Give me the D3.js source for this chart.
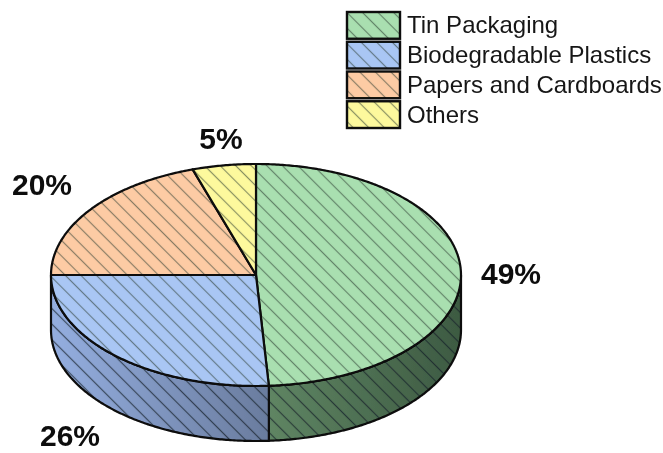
<!DOCTYPE html>
<html><head><meta charset="utf-8">
<script src="https://cdn.jsdelivr.net/npm/d3@7"></script>
<style>html,body{margin:0;padding:0;background:#fff}svg{display:block}</style>
</head><body><svg id="c" width="663" height="453"></svg>
<script>
const categories = ["Tin Packaging","Biodegradable Plastics","Papers and Cardboards","Others"];
const shares = [49,26,20,5];
const topColors = ["#a9dfb0","#a9c6f4","#fdcba4","#fdf99d"];
const sideStops = [["#5f8563","#3d5a42"],["#6a7c9e","#94aee0"]];
const svg=d3.select("#c");
const defs=svg.append("defs");
const blur=defs.append("filter").attr("id","soft").attr("x","-5%").attr("y","-5%").attr("width","110%").attr("height","110%");
blur.append("feGaussianBlur").attr("stdDeviation",0.6);
function hatch(id,color,op,size){
  const p=defs.append("pattern").attr("id",id).attr("patternUnits","userSpaceOnUse")
    .attr("width",size).attr("height",size).attr("patternTransform","rotate(45)");
  p.append("line").attr("x1",0).attr("x2",size).attr("y1",size/2).attr("y2",size/2)
    .attr("stroke",color).attr("stroke-opacity",op).attr("stroke-width",1.2);
}
hatch("h","#2a3a30",0.55,11);
hatch("hs","#15202a",0.7,11);
const cx=256,cy=275,rx=205,ry=111,depth=55;
const xS=d3.scaleLinear().domain([-1,1]).range([cx-rx,cx+rx]);
const yS=d3.scaleLinear().domain([-1,1]).range([cy-ry,cy+ry]);
const arcs=d3.pie().sort(null)(shares);
const ang=(a,b)=>{const n=Math.max(2,Math.ceil(Math.abs(b-a)/0.01));return d3.range(n+1).map(i=>a+(b-a)*i/n);};
const px=a=>xS(Math.sin(a)), py=a=>yS(-Math.cos(a));
const line=d3.line().x(d=>d[0]).y(d=>d[1]);
const root=svg.append("g").attr("filter","url(#soft)");

// side wall
const hi=Math.PI/2, lo=3*Math.PI/2;
arcs.forEach((d,i)=>{
  const a0=Math.max(d.startAngle,hi), a1=Math.min(d.endAngle,lo);
  if(a1<=a0) return;
  const as=ang(a0,a1);
  const g=defs.append("linearGradient").attr("id","side"+i).attr("gradientUnits","userSpaceOnUse")
    .attr("x1",px(a0)).attr("x2",px(a1)).attr("y1",0).attr("y2",0);
  g.append("stop").attr("offset",0).attr("stop-color",i===0?sideStops[0][1]:sideStops[1][0]);
  g.append("stop").attr("offset",1).attr("stop-color",i===0?sideStops[0][0]:sideStops[1][1]);
  const pts=as.map(a=>[px(a),py(a)]).concat(as.slice().reverse().map(a=>[px(a),py(a)+depth]));
  const path=line(pts)+"Z";
  root.append("path").attr("d",path).attr("fill","url(#side"+i+")");
  root.append("path").attr("d",path).attr("fill","url(#hs)").attr("stroke","#0a0a0a").attr("stroke-width",2.2).attr("stroke-linejoin","round");
});
// top slices
arcs.forEach((d,i)=>{
  const pts=[[xS(0),yS(0)]].concat(ang(d.startAngle,d.endAngle).map(a=>[px(a),py(a)]));
  const path=line(pts)+"Z";
  root.append("path").attr("d",path).attr("fill",topColors[i]);
  root.append("path").attr("d",path).attr("fill","url(#h)").attr("stroke","#0a0a0a").attr("stroke-width",2.2).attr("stroke-linejoin","round");
});
// legend
const legY=d3.scaleBand().domain(categories).range([10.5,129.5]);
const leg=root.selectAll("g.l").data(categories).join("g").attr("class","l");
leg.append("rect").attr("x",347).attr("y",d=>legY(d)+1.5).attr("width",53).attr("height",legY.bandwidth()-3)
  .attr("fill",(d,i)=>topColors[i]);
leg.append("rect").attr("x",347).attr("y",d=>legY(d)+1.5).attr("width",53).attr("height",legY.bandwidth()-3)
  .attr("fill","url(#h)").attr("stroke","#0a0a0a").attr("stroke-width",2.4);
leg.append("text").attr("x",407).attr("y",d=>legY(d)+legY.bandwidth()/2+8)
  .attr("font-family","'Liberation Sans',Arial,sans-serif").attr("font-size",24).attr("fill","#151515").text(d=>d);
// value labels
const labelPos=[[511,284],[70,446],[42,195],[221,149]];
root.selectAll("text.v").data(shares).join("text").attr("class","v")
  .attr("x",(d,i)=>labelPos[i][0]).attr("y",(d,i)=>labelPos[i][1]).attr("text-anchor","middle")
  .attr("font-family","'Liberation Sans',Arial,sans-serif").attr("font-weight","bold").attr("font-size",30).attr("fill","#0a0a0a")
  .text(d=>d+"%");
</script></body></html>
